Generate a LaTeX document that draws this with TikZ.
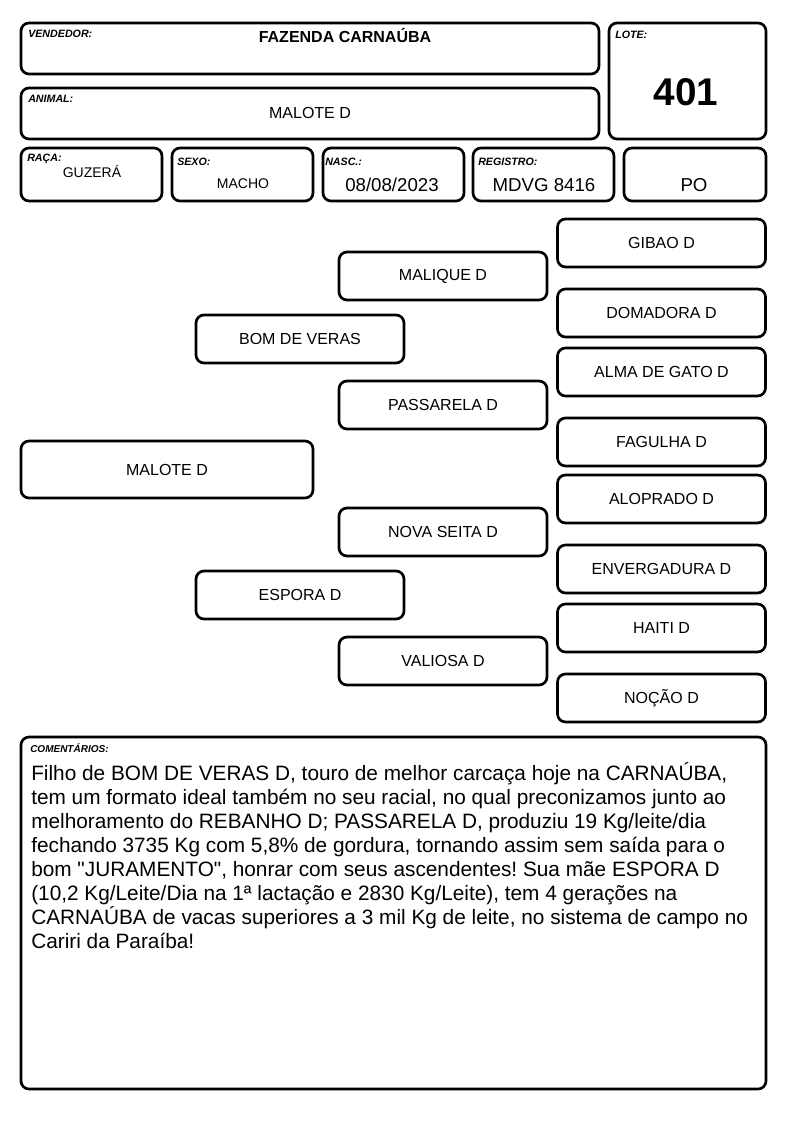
\documentclass[tikz,border=0pt]{standalone}
\usepackage{fontspec}
\setmainfont{Liberation Sans}[Ligatures=TeXOff]
\frenchspacing

\begin{document}
\begin{tikzpicture}[x=0.75pt, y=-0.75pt,
    caixa/.style={draw, line width=2pt, rounded corners=6pt, inner sep=0pt},
    rotulo/.style={anchor=base west, inner sep=0pt, font=\fontsize{8}{9}\selectfont\bfseries\itshape},
    valor/.style={anchor=base, inner sep=0pt, font=\fontsize{14}{16}\selectfont},
    nome/.style={caixa, minimum width=156pt, minimum height=36pt, font=\fontsize{12}{14}\selectfont}]
        \useasboundingbox (0,0) rectangle (794,1123);

        % cabecalho
        \node[caixa, minimum width=433.5pt, minimum height=38.25pt] (vendedor) at (310,48.5) {};
        \node[caixa, minimum width=117.75pt, minimum height=87pt] (lote) at (687.5,81) {};
        \node[caixa, minimum width=433.5pt, minimum height=38.25pt] (animal) at (310,113.5) {};
        \node[caixa, minimum width=105.75pt, minimum height=39.75pt] (raca) at (91.5,174.5) {};
        \node[caixa, minimum width=105.75pt, minimum height=39.75pt] (sexo) at (242.5,174.5) {};
        \node[caixa, minimum width=105.75pt, minimum height=39.75pt] (nasc) at (393.5,174.5) {};
        \node[caixa, minimum width=105.75pt, minimum height=39.75pt] (registro) at (543.5,174.5) {};
        \node[caixa, minimum width=106.5pt, minimum height=39.75pt] (po) at (695,174.5) {};

        \node[rotulo] (lvendedor) at (28,38) {VENDEDOR:};
        \node[rotulo] (lanimal) at (28,103) {ANIMAL:};
        \node[rotulo] (lraca) at (27,162) {RAÇA:};
        \node[rotulo] (lsexo) at (177,166) {SEXO:};
        \node[rotulo] (lnasc) at (325,166) {NASC.:};
        \node[rotulo] (lregistro) at (478,166) {REGISTRO:};
        \node[rotulo] (llote) at (615,39) {LOTE:};

        \node[valor, font=\fontsize{12}{14}\selectfont\bfseries] (vvendedor) at (345,43) {FAZENDA CARNAÚBA};
        \node[valor, font=\fontsize{12}{14}\selectfont] (vanimal) at (310,119) {MALOTE D};
        \node[valor, font=\fontsize{29}{32}\selectfont\bfseries] (vlote) at (686,106) {401};
        \node[valor, font=\fontsize{10.5}{12}\selectfont] (vraca) at (92,178) {GUZERÁ};
        \node[valor, font=\fontsize{10.5}{12}\selectfont] (vsexo) at (243,189) {MACHO};
        \node[valor] (vnasc) at (392,192) {08/08/2023};
        \node[valor] (vregistro) at (544,192) {MDVG 8416};
        \node[valor] (vpo) at (694,192) {PO};

        % genealogia
        \node[nome, minimum width=219pt, minimum height=42.75pt] (malote) at (167,469.5) {MALOTE D};
        \node[nome] (bomdeveras) at (300,339) {BOM DE VERAS};
        \node[nome] (espora) at (300,595) {ESPORA D};
        \node[nome] (malique) at (443,276) {MALIQUE D};
        \node[nome] (passarela) at (443,405) {PASSARELA D};
        \node[nome] (novaseita) at (443,532) {NOVA SEITA D};
        \node[nome] (valiosa) at (443,661) {VALIOSA D};
        \node[nome] (gibao) at (661.5,243) {GIBAO D};
        \node[nome] (domadora) at (661.5,313) {DOMADORA D};
        \node[nome] (almadegato) at (661.5,372) {ALMA DE GATO D};
        \node[nome] (fagulha) at (661.5,442) {FAGULHA D};
        \node[nome] (aloprado) at (661.5,499) {ALOPRADO D};
        \node[nome] (envergadura) at (661.5,569) {ENVERGADURA D};
        \node[nome] (haiti) at (661.5,628) {HAITI D};
        \node[nome] (nocao) at (661.5,698) {NOÇÃO D};

        % comentarios
        \node[caixa, minimum width=558.75pt, minimum height=264pt] (comentarios) at (393.5,913) {};
        \node[rotulo, font=\fontsize{7.5}{8}\selectfont\bfseries\itshape] (lcomentarios) at (30,752) {COMENTÁRIOS:};
        \node[anchor=north west, inner sep=0pt, align=left, font=\fontsize{15.6}{18}\selectfont] (texto) at (31,762)
            {Filho de BOM DE VERAS D, touro de melhor carcaça hoje na CARNAÚBA,\\
             tem um formato ideal também no seu racial, no qual preconizamos junto ao\\
             melhoramento do REBANHO D; PASSARELA D, produziu 19 Kg/leite/dia\\
             fechando 3735 Kg com 5,8\% de gordura, tornando assim sem saída para o\\
             bom "JURAMENTO", honrar com seus ascendentes! Sua mãe ESPORA D\\
             (10,2 Kg/Leite/Dia na 1ª lactação e 2830 Kg/Leite), tem 4 gerações na\\
             CARNAÚBA de vacas superiores a 3 mil Kg de leite, no sistema de campo no\\
             Cariri da Paraíba!};

    \end{tikzpicture}
\end{document}
